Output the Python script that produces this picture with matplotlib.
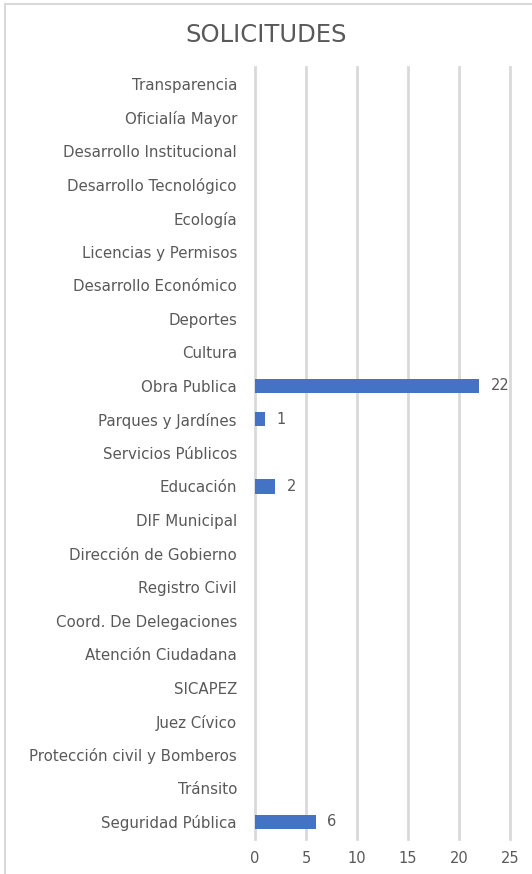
import numpy as np
import matplotlib.pyplot as plt
from matplotlib.lines import Line2D

plt.rcParams['font.family'] = ['DejaVu Sans']

categories = ['Transparencia', 'Oficialía Mayor', 'Desarrollo Institucional',
              'Desarrollo Tecnológico', 'Ecología', 'Licencias y Permisos',
              'Desarrollo Económico', 'Deportes', 'Cultura', 'Obra Publica',
              'Parques y Jardínes', 'Servicios Públicos', 'Educación',
              'DIF Municipal', 'Dirección de Gobierno', 'Registro Civil',
              'Coord. De Delegaciones', 'Atención Ciudadana', 'SICAPEZ',
              'Juez Cívico', 'Protección civil y Bomberos', 'Tránsito',
              'Seguridad Pública']
values = [0, 0, 0, 0, 0, 0, 0, 0, 0, 22, 1, 0, 2, 0, 0, 0, 0, 0, 0, 0, 0, 0, 6]
xticks = [0, 5, 10, 15, 20, 25]

text_color = '#595959'
bar_color = '#4472C4'

fig = plt.figure(figsize=(5.32, 8.74), dpi=100)
ax = fig.add_axes([0.4793, 0.0405, 0.4793, 0.8825])

y = np.arange(len(categories))
ax.barh(y, values, height=0.42, color=bar_color, zorder=3)
for yi, v in zip(y, values):
    if v:
        ax.annotate(str(v), (v, yi), xytext=(8, 0), textcoords='offset points',
                    va='center', ha='left', fontsize=10.5, color=text_color)

ax.set_ylim(len(categories) - 0.5, -0.5)
ax.set_xlim(0, 25)
ax.set_yticks(y)
ax.set_yticklabels(categories, fontsize=10.8, color=text_color)
ax.set_xticks(xticks)
ax.set_xticklabels([str(t) for t in xticks], fontsize=10.5, color=text_color)
ax.tick_params(length=0, pad=13)
ax.tick_params(axis='x', pad=9)
ax.grid(axis='x', color='#d9d9d9', lw=2, zorder=0)
for gl in ax.get_xgridlines():
    gl.set_clip_on(False)
for s in ax.spines.values():
    s.set_visible(False)

fig.text(0.5, 0.96, 'SOLICITUDES', ha='center', va='center',
         fontsize=17.5, color=text_color)

# outer frame (left and top edges visible)
fig.add_artist(Line2D([0.009, 0.009], [0, 0.995], color='#d9d9d9', lw=1.5, transform=fig.transFigure))
fig.add_artist(Line2D([0.009, 1], [0.995, 0.995], color='#d9d9d9', lw=1.5, transform=fig.transFigure))

fig.savefig('out.png', dpi=100)
